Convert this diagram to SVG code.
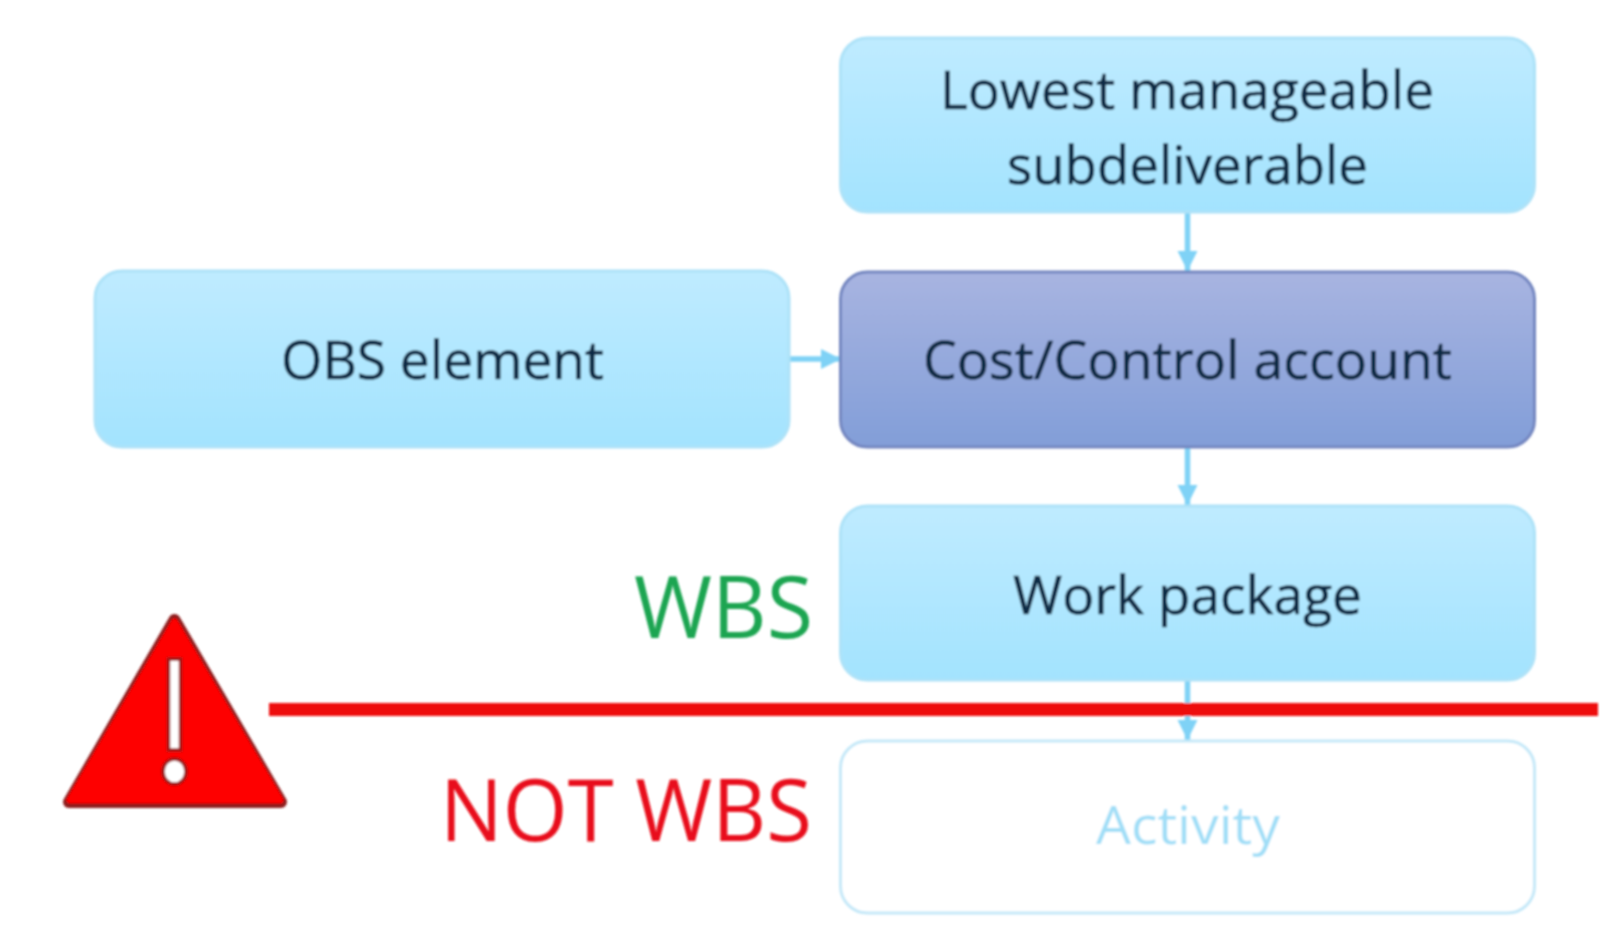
<svg xmlns="http://www.w3.org/2000/svg" width="1622" height="937" viewBox="0 0 1622 937">
<style>
.t{font-family:"Open Sans","Noto Sans","Liberation Sans",sans-serif;text-anchor:start}
.n{font-size:53px;fill:#0e2a44;stroke:#0e2a44;stroke-width:.6}
.box{stroke-width:3}
.lb{fill:url(#lb);stroke:#ade2f8}
.db{fill:url(#db);stroke:#7386c0}
.wb{fill:#fff;stroke:#c4e8f8}
.c{stroke:#7fd2f6;stroke-width:5.5;fill:none;marker-end:url(#ah)}
</style>
<defs>
<linearGradient id="lb" x1="0" y1="0" x2="0" y2="1"><stop offset="0" stop-color="#bfebff"/><stop offset="1" stop-color="#a3e3fe"/></linearGradient>
<linearGradient id="db" x1="0" y1="0" x2="0" y2="1"><stop offset="0" stop-color="#a8b4e1"/><stop offset="1" stop-color="#829ed8"/></linearGradient>
<marker id="ah" markerUnits="userSpaceOnUse" markerWidth="22" markerHeight="22" refX="20" refY="10" orient="auto"><path d="M0,0L20,10L0,20Z" fill="#7fd2f6"/></marker>
<filter id="soft" filterUnits="userSpaceOnUse" x="0" y="0" width="1622" height="937"><feGaussianBlur stdDeviation="0.9"/></filter>
</defs>
<rect width="1622" height="937" fill="#fff"/>
<g filter="url(#soft)">
<g id="connectors">
<path class="c" d="M1187.5,212V271"/>
<path class="c" d="M789,359H841"/>
<path class="c" d="M1187.5,446V505"/>
<path class="c" d="M1187.5,680V740"/>
</g>
<g id="node-lowest"><rect class="box lb" x="840.5" y="38" width="694" height="174" rx="27"/>
<text class="t n" x="940" y="109" textLength="494" lengthAdjust="spacingAndGlyphs">Lowest manageable</text>
<text class="t n" x="1007" y="184" textLength="361" lengthAdjust="spacingAndGlyphs">subdeliverable</text></g>
<g id="node-obs"><rect class="box lb" x="95" y="271" width="694" height="176" rx="27"/>
<text class="t n" x="281" y="379" textLength="323" lengthAdjust="spacingAndGlyphs">OBS element</text></g>
<g id="node-account"><rect class="box db" x="840.5" y="272" width="694" height="175" rx="27"/>
<text class="t n" x="923" y="379" textLength="529" lengthAdjust="spacingAndGlyphs">Cost/Control account</text></g>
<g id="node-work"><rect class="box lb" x="840.5" y="506" width="694" height="174" rx="27"/>
<text class="t n" x="1013" y="614" textLength="349" lengthAdjust="spacingAndGlyphs">Work package</text></g>
<g id="node-activity"><rect class="box wb" x="840.5" y="741" width="694" height="172" rx="27"/>
<text class="t n" style="fill:#a0def7;stroke:none" x="1096" y="844" textLength="184" lengthAdjust="spacingAndGlyphs">Activity</text></g>
<rect id="divider" x="269" y="703" width="1329" height="13" fill="#ee0808"/>
<g id="label-wbs"><text class="t" font-size="86" fill="#1aa551" x="634" y="638" textLength="179" lengthAdjust="spacingAndGlyphs">WBS</text></g>
<g id="label-not-wbs"><text class="t" font-size="86" fill="#e8101a" x="440" y="841" textLength="372" lengthAdjust="spacingAndGlyphs">NOT WBS</text></g>
<g id="warning">
<polygon points="174.5,620 69,802 281,802" fill="#8f1c1c" stroke="#8f1c1c" stroke-width="12" stroke-linejoin="round"/>
<polygon points="174.5,622 70,800 280,800" fill="#fe0000" stroke="#fe0000" stroke-width="7" stroke-linejoin="round"/>
<rect x="168.5" y="659" width="12" height="91" fill="#fff" stroke="#a01818" stroke-width="3.5"/>
<ellipse cx="174.5" cy="771.5" rx="11.5" ry="12.5" fill="#fff" stroke="#a01818" stroke-width="3.5"/>
</g>
</g>
</svg>
